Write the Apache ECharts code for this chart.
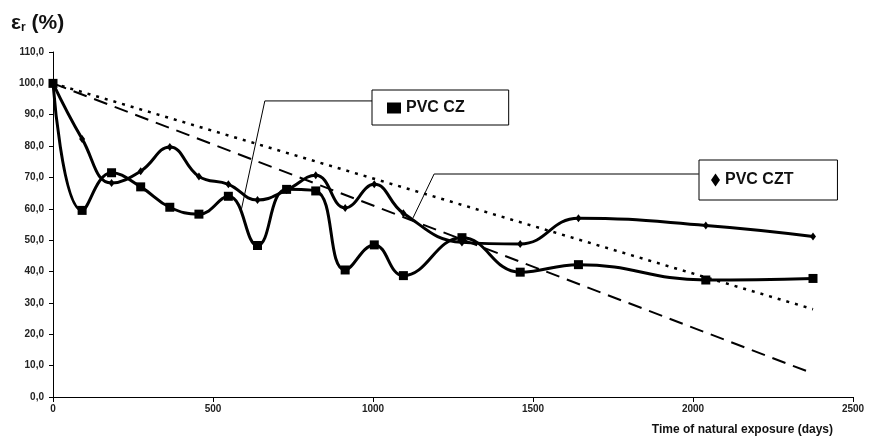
<!DOCTYPE html>
<html>
<head>
<meta charset="utf-8">
<script src="https://cdn.jsdelivr.net/npm/echarts@6/dist/echarts.min.js"></script>
<style>html,body{margin:0;padding:0;background:#fff}#c{width:869px;height:437px}</style>
</head>
<body>
<div id="c"></div>
<script>
// Data
const days = [0, 91, 183, 274, 365, 456, 548, 639, 730, 821, 913, 1004, 1095, 1278, 1460, 1642, 2040, 2375];
const pvcCZ = [100, 59.5, 71.5, 67, 60.5, 58.3, 64, 48.3, 66.2, 65.7, 40.5, 48.5, 38.7, 50.8, 39.8, 42.2, 37.3, 37.8];
const pvcCZT = [100, 82.3, 68.2, 72, 79.7, 70.3, 67.8, 62.8, 66, 70.7, 60.3, 67.8, 58.6, 49.3, 48.8, 57, 54.7, 51.2];
const trendDashed = [[0, 100], [2375, 7.5]];
const trendDotted = [[0, 100], [2375, 28]];
const xTicks = [0, 500, 1000, 1500, 2000, 2500];
const yTicks = [0, 10, 20, 30, 40, 50, 60, 70, 80, 90, 100, 110];
// leader lines (data space anchors)
const leaderCZ = [[997, 94.4], [662, 94.4], [587, 59]];
const leaderCZT = [[2018, 71.1], [1191, 71.1], [1125, 57.1]];

const FONT = 'Liberation Sans';
const chart = echarts.init(document.getElementById('c'), null, {renderer: 'canvas'});
const zip = (xs, ys) => xs.map((x, i) => [x, ys[i]]);

chart.setOption({
  animation: false,
  backgroundColor: '#fff',
  textStyle: {fontFamily: FONT},
  grid: {left: 53, right: 16, top: 52, bottom: 40},
  title: [{
    text: '{a|ε}{b|r}{a| (%)}',
    left: 6, top: 8,
    textStyle: {rich: {
      a: {fontFamily: FONT, fontSize: 21, fontWeight: 'bold', color: '#111'},
      b: {fontFamily: FONT, fontSize: 12, fontWeight: 'bold', color: '#111', verticalAlign: 'bottom', padding: [9, 0, 0, 0]}
    }}
  }, {
    text: 'Time of natural exposure (days)',
    right: 31, top: 419,
    textStyle: {fontFamily: FONT, fontSize: 12, fontWeight: 'bold', color: '#111'}
  }],
  legend: [{
    data: [{name: 'PVC CZ', icon: 'rect'}],
    left: 372, top: 90,
    orient: 'horizontal',
    itemWidth: 14, itemHeight: 11,
    padding: [10, 44, 9, 15],
    borderColor: '#000', borderWidth: 1,
    textStyle: {fontFamily: FONT, fontSize: 16, fontWeight: 'bold', color: '#111'},
    selectedMode: false
  }, {
    data: [{name: 'PVC CZT', icon: 'diamond'}],
    left: 699, top: 160,
    itemWidth: 9, itemHeight: 13,
    padding: [12, 44, 12, 12],
    borderColor: '#000', borderWidth: 1,
    textStyle: {fontFamily: FONT, fontSize: 16, fontWeight: 'bold', color: '#111'},
    selectedMode: false
  }],
  xAxis: {
    type: 'value', min: 0, max: 2500, interval: 500,
    axisLine: {lineStyle: {color: '#000', width: 1}},
    axisTick: {show: true, length: 5, inside: false, lineStyle: {color: '#000'}},
    axisLabel: {fontFamily: FONT, fontSize: 10, fontWeight: 'bold', color: '#222', margin: 7,
      formatter: v => String(v)},
    splitLine: {show: false}
  },
  yAxis: {
    type: 'value', min: 0, max: 110, interval: 10,
    axisLine: {show: true, lineStyle: {color: '#000', width: 1}},
    axisTick: {show: true, length: 4, lineStyle: {color: '#000'}},
    axisLabel: {fontFamily: FONT, fontSize: 10, fontWeight: 'bold', color: '#222', margin: 9,
      formatter: v => v.toFixed(1).replace('.', ',')},
    splitLine: {show: false}
  },
  series: [{
    name: 'trend dashed', type: 'line', data: trendDashed, symbol: 'none',
    lineStyle: {color: '#000', width: 2, type: [14, 8]}, silent: true, z: 1
  }, {
    name: 'trend dotted', type: 'line', data: trendDotted, symbol: 'none',
    lineStyle: {color: '#000', width: 2.5, type: [3, 6]}, silent: true, z: 1
  }, {
    name: 'PVC CZ', type: 'line', data: zip(days, pvcCZ), smooth: 0.45,
    symbol: 'rect', symbolSize: 9,
    lineStyle: {color: '#000', width: 3}, itemStyle: {color: '#000'}, z: 3
  }, {
    name: 'PVC CZT', type: 'line', data: zip(days, pvcCZT), smooth: 0.45,
    symbol: 'diamond', symbolSize: [6, 8],
    lineStyle: {color: '#000', width: 3}, itemStyle: {color: '#000'}, z: 3
  }]
});

function leader(pts) {
  const p = pts.map(d => chart.convertToPixel({gridIndex: 0}, d));
  return {type: 'polyline', shape: {points: p}, style: {stroke: '#000', lineWidth: 1, fill: null}, z: 10};
}
chart.setOption({graphic: [leader(leaderCZ), leader(leaderCZT)]});
</script>
</body>
</html>
